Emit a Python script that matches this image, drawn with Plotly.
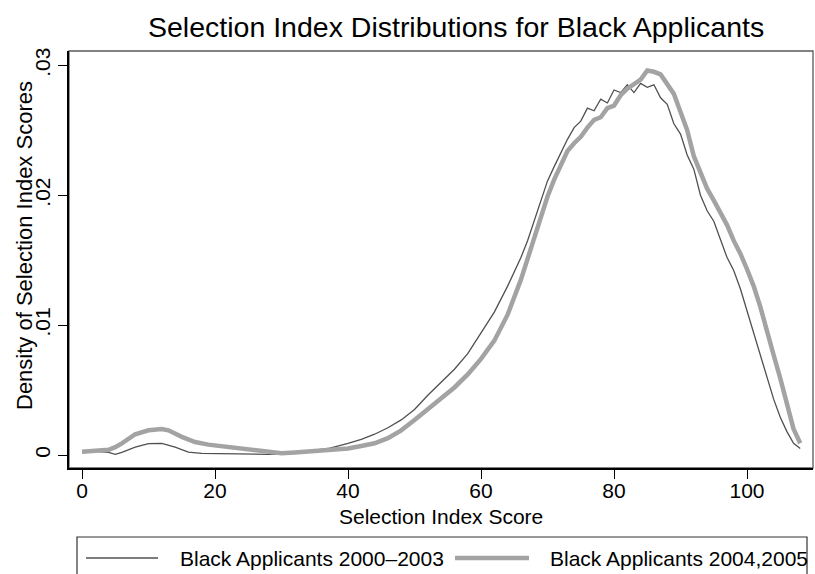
import plotly.graph_objects as go

# ---- data ----
x_early = [0, 2, 4, 5, 6, 8, 10, 12, 14, 16, 18, 20, 24, 28, 31, 34, 37, 40, 42, 44, 46, 48,
           50, 52, 54, 56, 58, 60, 62, 64, 66, 67, 68, 69, 70, 71, 72, 73, 74, 75, 76, 77,
           78, 79, 80, 81, 82, 83, 84, 85, 86, 87, 88, 89, 90, 91, 92, 93, 94, 95, 97, 98,
           99, 100, 101, 102, 103, 104, 105, 106, 107, 108]
y_early = [0.0003, 0.00028, 0.0002, 0.00005, 0.0002, 0.0006, 0.00088, 0.0009, 0.0006, 0.00022,
           0.00012, 0.0001, 0.00007, 0.00005, 0.0001, 0.0003, 0.0005, 0.0009, 0.0012, 0.0016,
           0.0021, 0.0027, 0.0035, 0.0046, 0.0056, 0.0066, 0.0078, 0.0094, 0.0110, 0.0130,
           0.0152, 0.0165, 0.0180, 0.0195, 0.0211, 0.0222, 0.0233, 0.0243, 0.0252, 0.0257,
           0.0267, 0.0265, 0.0274, 0.0271, 0.0281, 0.0279, 0.0285, 0.0279, 0.0286, 0.0283,
           0.0285, 0.0275, 0.0270, 0.0255, 0.0247, 0.0231, 0.0220, 0.0200, 0.0188, 0.0180,
           0.0152, 0.0142, 0.0128, 0.0111, 0.0093, 0.0076, 0.0059, 0.0043, 0.0029, 0.0018,
           0.0009, 0.0005]

x_late = [0, 2, 4, 5, 6, 8, 10, 12, 13, 15, 17, 19, 22, 25, 28, 30, 32, 35, 38, 40, 42, 44,
          46, 48, 50, 52, 54, 56, 58, 60, 62, 64, 66, 68, 69, 70, 71, 72, 73, 74, 75, 76,
          77, 78, 79, 80, 81, 82, 83, 84, 85, 86, 87, 88, 89, 90, 91, 92, 93, 94, 95, 96,
          97, 98, 99, 100, 101, 102, 103, 104, 105, 106, 107, 108]
y_late = [0.00025, 0.0003, 0.0004, 0.0006, 0.0009, 0.0016, 0.0019, 0.0020, 0.0019, 0.0014,
          0.0010, 0.0008, 0.0006, 0.0004, 0.0002, 0.00013, 0.0002, 0.0003, 0.00045, 0.0005,
          0.0007, 0.0009, 0.0013, 0.0019, 0.0027, 0.0035, 0.0043, 0.0052, 0.0062, 0.0074,
          0.0088, 0.0108, 0.0135, 0.0167, 0.0184, 0.0199, 0.0212, 0.0223, 0.0234, 0.0240,
          0.0245, 0.0252, 0.0258, 0.0260, 0.0267, 0.0269, 0.0277, 0.0282, 0.0286, 0.0289,
          0.0296, 0.0295, 0.0293, 0.0285, 0.0278, 0.0264, 0.0250, 0.0230, 0.0218, 0.0205,
          0.0196, 0.0187, 0.0177, 0.0165, 0.0155, 0.0143, 0.0130, 0.0114, 0.0097, 0.0077,
          0.0059, 0.0038, 0.0020, 0.0009]

series_names = ["Black Applicants 2000\u20132003", "Black Applicants 2004,2005"]
x_ticks = [0, 20, 40, 60, 80, 100]
y_ticks = [0, 0.01, 0.02, 0.03]
y_tick_labels = ["0", ".01", ".02", ".03"]
title_text = "Selection Index Distributions for Black Applicants"
x_title = "Selection Index Score"
y_title = "Density of Selection Index Scores"

# ---- geometry ----
W, H = 815, 574
L, R, T, B = 69, 813, 51, 468
FONT = "Liberation Sans, Arial, Helvetica, sans-serif"
THIN_C = "#505050"
THICK_C = "#a3a3a3"
TXT = 21


def px(xp):
    return (xp - L) / (R - L)


def py(yp):
    return (B - yp) / (B - T)


fig = go.Figure()
fig.add_trace(go.Scatter(x=x_early, y=y_early, mode="lines", name=series_names[0],
                         line=dict(color=THIN_C, width=1.3)))
fig.add_trace(go.Scatter(x=x_late, y=y_late, mode="lines", name=series_names[1],
                         line=dict(color=THICK_C, width=4.5)))

shapes = [
    # plot region frame (gray)
    dict(type="rect", xref="paper", yref="paper", x0=0, y0=0, x1=1, y1=1,
         line=dict(color="#5a5a5a", width=1.3), layer="below"),
    # legend box (extends past the bottom of the image)
    dict(type="rect", xref="paper", yref="paper", x0=px(77), x1=px(807), y0=py(537), y1=py(620),
         line=dict(color="#333333", width=1.2), fillcolor="rgba(0,0,0,0)"),
    # legend keys
    dict(type="line", xref="paper", yref="paper", x0=px(86), x1=px(158), y0=py(558), y1=py(558),
         line=dict(color=THIN_C, width=1.3)),
    dict(type="line", xref="paper", yref="paper", x0=px(455), x1=px(529), y0=py(558), y1=py(558),
         line=dict(color=THICK_C, width=4.5)),
]

annotations = [
    dict(text=title_text, xref="paper", yref="paper", x=px(456), y=py(27), showarrow=False,
         xanchor="center", yanchor="middle", font=dict(size=28.5, color="black", family=FONT)),
    dict(text=x_title, xref="paper", yref="paper", x=px(441), y=py(516), showarrow=False,
         xanchor="center", yanchor="middle", font=dict(size=TXT, color="black", family=FONT)),
    dict(text=y_title, xref="paper", yref="paper", x=px(24), y=py(246), showarrow=False,
         xanchor="center", yanchor="middle", textangle=-90,
         font=dict(size=22, color="black", family=FONT)),
    dict(text=series_names[0], xref="paper", yref="paper", x=px(178), y=py(558), showarrow=False,
         xanchor="left", yanchor="middle", font=dict(size=TXT, color="black", family=FONT)),
    dict(text=series_names[1], xref="paper", yref="paper", x=px(548), y=py(558), showarrow=False,
         xanchor="left", yanchor="middle", font=dict(size=TXT, color="black", family=FONT)),
]

fig.update_layout(
    width=W, height=H,
    margin=dict(l=L, r=W - R, t=T, b=H - B, pad=0),
    paper_bgcolor="white", plot_bgcolor="white",
    showlegend=False,
    font=dict(family=FONT, color="black", size=20),
    shapes=shapes, annotations=annotations,
    xaxis=dict(range=[-1.955, 109.92], tickmode="array", tickvals=x_ticks,
               ticks="outside", ticklen=9, tickwidth=1.2, tickcolor="black",
               ticklabelstandoff=-6,
               showline=True, linecolor="black", linewidth=1.5,
               showgrid=False, zeroline=False,
               tickfont=dict(size=TXT, family=FONT, color="black")),
    yaxis=dict(range=[-0.001, 0.0311], tickmode="array", tickvals=y_ticks, ticktext=y_tick_labels,
               ticks="outside", ticklen=9, tickwidth=1.2, tickcolor="black", tickangle=-90,
               showline=True, linecolor="black", linewidth=1.5,
               showgrid=False, zeroline=False,
               tickfont=dict(size=TXT, family=FONT, color="black")),
)

fig.write_html("out.html")
